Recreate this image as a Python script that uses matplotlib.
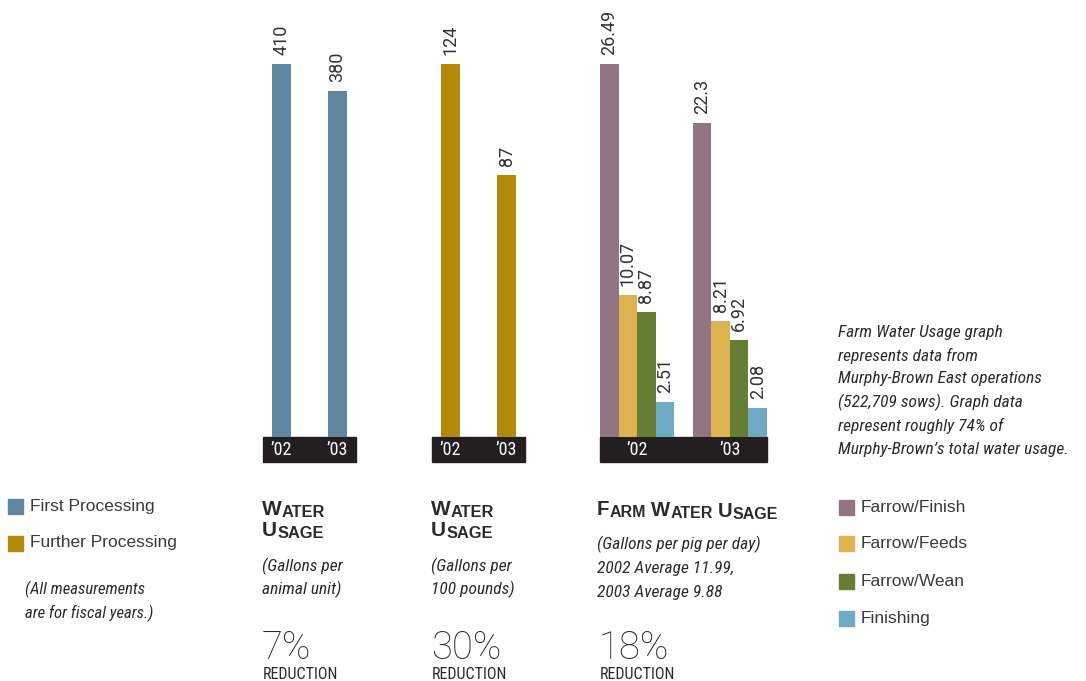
import matplotlib
matplotlib.use("Agg")
import matplotlib.pyplot as plt
from matplotlib import transforms
from matplotlib.patches import Rectangle

W, H = 1086, 681

# values per panel
years = ["’02", "’03"]
first_processing = [410, 380]
further_processing = [124, 87]
farm_categories = ["Farrow/Finish", "Farrow/Feeds", "Farrow/Wean", "Finishing"]
farm_2002 = [26.49, 10.07, 8.87, 2.51]
farm_2003 = [22.3, 8.21, 6.92, 2.08]
reductions = ["7%", "30%", "18%"]

BLUE = "#5f87a0"
GOLD = "#b5890a"
FARM_COLORS = ["#937483", "#ddb250", "#647f34", "#6fa9c3"]
BAND = "#231f20"
INK = "#2b2b2b"

plt.rcParams["font.family"] = ["Liberation Sans", "DejaVu Sans"]
COND = ["Roboto Condensed", "IBM Plex Sans Condensed", "Archivo Narrow", "Liberation Sans"]
LIGHT = ["Roboto", "Liberation Sans"]

fig = plt.figure(figsize=(W / 100, H / 100), dpi=100)
fig.patch.set_facecolor("white")


def px_axes(left, right, top=64, bottom=437):
    return fig.add_axes([left / W, 1 - bottom / H, (right - left) / W, (bottom - top) / H])


def year_band(ax, centers):
    ax.add_patch(Rectangle((0, -25 / 373), 1, 25 / 373, transform=ax.transAxes,
                           clip_on=False, color=BAND, zorder=0))
    tr = transforms.blended_transform_factory(ax.transData, ax.transAxes)
    for c, yr in zip(centers, years):
        ax.text(c, -13 / 373, yr, transform=tr, ha="center", va="center",
                color="white", fontsize=13, family=COND)


def value_label(ax, x, v):
    ax.annotate(str(v), xy=(x, v), xytext=(0, 6.5), textcoords="offset points",
                rotation=90, ha="center", va="bottom", fontsize=13, color="#333333",
                family=LIGHT)


# processing panels
for left, right, vals, color in ((263, 356, first_processing, BLUE),
                                 (432, 525, further_processing, GOLD)):
    ax = px_axes(left, right)
    pos = list(range(len(vals)))
    ax.bar(pos, vals, width=0.34, color=color, zorder=1)
    for p, v in zip(pos, vals):
        value_label(ax, p, v)
    ax.set_xlim(-0.33, 1.33)
    ax.set_ylim(0, max(vals))
    ax.axis("off")
    year_band(ax, pos)

# farm panel: grouped bars
ax3 = px_axes(600, 767)
bw = 0.2
for g, vals in enumerate((farm_2002, farm_2003)):
    for i, v in enumerate(vals):
        x = g + (i - 1.5) * bw
        ax3.bar(x, v, width=bw, color=FARM_COLORS[i], zorder=1)
        value_label(ax3, x, v)
ax3.set_xlim(-0.4, 1.4)
ax3.set_ylim(0, max(farm_2002 + farm_2003))
ax3.axis("off")
year_band(ax3, [0, 1])

# text layer in pixel coordinates
ov = fig.add_axes([0, 0, 1, 1], zorder=-1)
ov.set_xlim(0, W)
ov.set_ylim(H, 0)
ov.axis("off")


def swatch(x, y, color, label):
    ov.add_patch(Rectangle((x, y - 7.5), 15, 15, color=color))
    ov.text(x + 22, y, label, va="center", ha="left", fontsize=12.5, color="#3a3a3a")


def small_caps(x, y, words, big=15, small=11.8, color=INK):
    prev = None
    for k, w in enumerate(words):
        for part, size in ((w[0], big), (w[1:], small)):
            if not part:
                continue
            if prev is None:
                prev = ov.text(x, y, part, fontsize=size, fontweight="bold",
                               color=color, va="baseline", ha="left")
            else:
                dx = 3.5 if (part == w[0] and k > 0) else 0.2
                dy = -0.22 * (big - size)
                prev = ov.annotate(part, xy=(1, 0), xycoords=prev, xytext=(dx, dy),
                                   textcoords="offset points", fontsize=size,
                                   fontweight="bold", color=color,
                                   va="bottom", ha="left")


swatch(8, 506, BLUE, "First Processing")
swatch(8, 543, GOLD, "Further Processing")
ov.text(25, 589, "(All measurements", style="italic", fontsize=12, va="center",
        family=COND, color=INK)
ov.text(25, 613, "are for fiscal years.)", style="italic", fontsize=12, va="center",
        family=COND, color=INK)

small_caps(262, 515, ["WATER"])
small_caps(262, 536, ["USAGE"])
small_caps(431, 515, ["WATER"])
small_caps(431, 536, ["USAGE"])
small_caps(597, 515, ["FARM", "WATER", "USAGE"], big=14.6, small=11.5)

subtitles = [
    (262, ["(Gallons per", "animal unit)"]),
    (431, ["(Gallons per", "100 pounds)"]),
    (597, ["(Gallons per pig per day)", "2002 Average 11.99,", "2003 Average 9.88"]),
]
for x, lines in subtitles:
    y0 = 566 if len(lines) == 2 else 544
    step = 23 if len(lines) == 2 else 24
    for j, line in enumerate(lines):
        ov.text(x, y0 + j * step, line, style="italic", fontsize=12.5, va="center",
                family=COND, color=INK)

for x, r in zip((262, 431, 599), reductions):
    ov.text(x, 659, r, fontsize=27.5, fontweight="light", family=LIGHT,
            va="baseline", color=INK)
    ov.text(x + 1, 679, "REDUCTION", fontsize=11.5, family=COND, va="baseline", color=INK)

note = ["Farm Water Usage graph", "represents data from", "Murphy-Brown East operations",
        "(522,709 sows). Graph data", "represent roughly 74% of",
        "Murphy-Brown’s total water usage."]
for j, line in enumerate(note):
    ov.text(838, 332 + j * 23.5, line, style="italic", fontsize=12.5, va="center",
            family=COND, color=INK)

for j, (cat, col) in enumerate(zip(farm_categories, FARM_COLORS)):
    swatch(839, [507, 543, 581, 618][j], col, cat)

fig.savefig("out.png", dpi=100, facecolor="white")
